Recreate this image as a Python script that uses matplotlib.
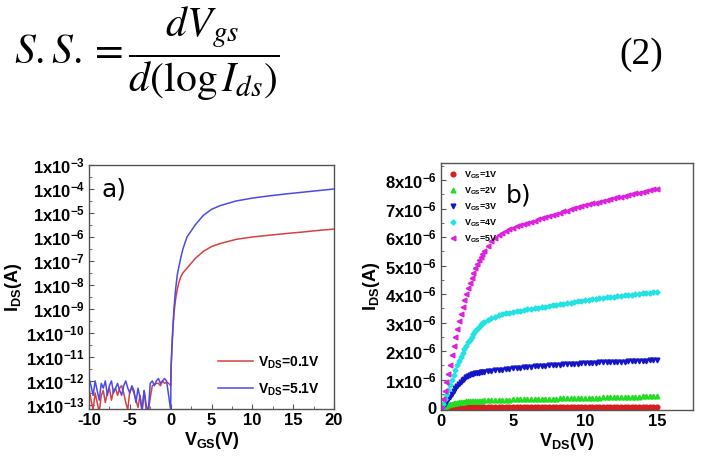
import numpy as np
import matplotlib
matplotlib.use('Agg')
import matplotlib.pyplot as plt
from matplotlib.ticker import FixedLocator, FixedFormatter, MultipleLocator

plt.rcParams['font.family'] = ['Liberation Sans', 'DejaVu Sans']
plt.rcParams['mathtext.fontset'] = 'custom'
plt.rcParams['mathtext.rm'] = 'Liberation Sans:bold'
plt.rcParams['mathtext.bf'] = 'Liberation Sans:bold'
plt.rcParams['mathtext.it'] = 'Liberation Sans:bold'
plt.rcParams['axes.unicode_minus'] = False

# ---- panel a) transfer curves, log10(I_DS)
vgs = [-10, -9.75, -9.5, -9.25, -9, -8.75, -8.5, -8.25, -8, -7.75, -7.5, -7.25,
       -7, -6.75, -6.5, -6.25, -6, -5.75, -5.5, -5.25, -5, -4.75, -4.5, -4.25,
       -4, -3.75, -3.5, -3.25, -3, -2.75, -2.5, -2.25, -2, -1.75, -1.5, -1.25,
       -1, -0.75, -0.5, -0.25, 0,
       0.05, 0.15, 0.25, 0.4, 0.6, 0.8, 1.0, 1.25, 1.5, 2, 2.5, 3, 4, 5, 6,
       8, 10, 12, 14, 16, 18, 20]
log_ids_01 = [-12.3, -12.8, -13.2, -12.5, -12.9, -13.3, -12.6, -12.4, -12.9, -12.5,
              -12.3, -12.8, -12.4, -12.3, -12.6, -12.3, -12.2, -12.5, -12.9, -13.2,
              -12.4, -12.3, -12.5, -12.8, -13.1, -12.6, -13.3, -12.4, -13.2, -13.3,
              -12.7, -12.2, -12.15, -12.1, -12.1, -12.2, -12.0, -12.1, -12.05, -12.1,
              -12.2,
              -11.5, -10.7, -10.0, -9.2, -8.6, -8.2, -7.9, -7.65, -7.5, -7.3, -7.1,
              -6.9, -6.6, -6.4, -6.28, -6.1, -6.0, -5.93, -5.86, -5.8, -5.73, -5.67]
log_ids_51 = [-11.9, -12.2, -12.6, -12.0, -12.4, -12.8, -12.1, -12.3, -12.0, -12.6,
              -12.2, -12.0, -12.5, -12.3, -12.1, -12.4, -12.6, -12.2, -12.0, -12.3,
              -12.5, -12.2, -12.4, -12.9, -12.3, -12.7, -13.2, -12.4, -13.0, -13.3,
              -12.1, -12.0, -12.2, -12.0, -11.9, -12.1, -12.0, -11.9, -12.0, -12.6,
              -13.2,
              -11.4, -10.6, -9.9, -9.0, -8.2, -7.6, -7.25, -6.85, -6.5, -6.0, -5.75,
              -5.5, -5.1, -4.85, -4.7, -4.5, -4.38, -4.29, -4.21, -4.14, -4.07, -4.0]
ylog_ticks = [-3, -4, -5, -6, -7, -8, -9, -10, -11, -12, -13]

# ---- panel b) output curves, I_DS in uA
vds = np.concatenate([np.arange(0, 3.001, 0.125), np.arange(3.25, 15.001, 0.25)])
ids_1v = [0, 0.005, 0.01, 0.015, 0.02, 0.022, 0.025, 0.027, 0.03, 0.03, 0.03, 0.03, 0.03,
          0.03, 0.03, 0.03, 0.03, 0.03, 0.03, 0.03, 0.03, 0.03, 0.03, 0.03, 0.03,
          0.03, 0.03, 0.03, 0.03, 0.03, 0.03, 0.03, 0.03,
          0.03, 0.031, 0.031, 0.032, 0.032, 0.033, 0.033, 0.034, 0.034, 0.035,
          0.035, 0.036, 0.036, 0.037, 0.037, 0.038, 0.038, 0.039, 0.039, 0.04,
          0.04, 0.041, 0.041, 0.042, 0.042, 0.043, 0.043, 0.044, 0.044, 0.045,
          0.045, 0.046, 0.046, 0.047, 0.047, 0.048, 0.048, 0.049, 0.049, 0.05]
ids_2v = [0, 0.03, 0.06, 0.085, 0.11, 0.13, 0.15, 0.165, 0.18, 0.19, 0.2, 0.21, 0.22,
          0.225, 0.23, 0.235, 0.24, 0.243, 0.245, 0.248, 0.25, 0.255, 0.26, 0.262, 0.265,
          0.27, 0.275, 0.28, 0.285, 0.29, 0.29, 0.295, 0.3,
          0.3, 0.305, 0.31, 0.31, 0.315, 0.315, 0.32, 0.32, 0.325, 0.325,
          0.33, 0.33, 0.335, 0.335, 0.34, 0.34, 0.345, 0.345, 0.35, 0.35,
          0.355, 0.36, 0.36, 0.365, 0.37, 0.37, 0.375, 0.38, 0.38, 0.385,
          0.39, 0.39, 0.395, 0.4, 0.4, 0.405, 0.41, 0.41, 0.415, 0.42]
ids_3v = [0, 0.07, 0.15, 0.22, 0.3, 0.4, 0.5, 0.6, 0.7, 0.78, 0.85, 0.92, 0.98,
          1.03, 1.08, 1.12, 1.15, 1.18, 1.2, 1.22, 1.23, 1.24, 1.25, 1.26, 1.27,
          1.29, 1.3, 1.32, 1.33, 1.35, 1.37, 1.38, 1.4,
          1.41, 1.42, 1.43, 1.44, 1.45, 1.46, 1.47, 1.48, 1.49, 1.5,
          1.5, 1.51, 1.52, 1.53, 1.54, 1.55, 1.55, 1.56, 1.57, 1.58,
          1.58, 1.59, 1.59, 1.6, 1.6, 1.61, 1.61, 1.62, 1.62, 1.63,
          1.63, 1.64, 1.64, 1.65, 1.65, 1.66, 1.66, 1.67, 1.67, 1.68]
ids_4v = [0, 0.15, 0.3, 0.46, 0.63, 0.8, 0.98, 1.16, 1.33, 1.5, 1.65, 1.8, 1.93,
          2.06, 2.18, 2.3, 2.4, 2.5, 2.6, 2.69, 2.78, 2.85, 2.92, 2.97, 3.02,
          3.1, 3.16, 3.21, 3.26, 3.29, 3.32, 3.35, 3.37,
          3.39, 3.41, 3.43, 3.46, 3.48, 3.5, 3.52, 3.54, 3.56, 3.58,
          3.6, 3.62, 3.64, 3.66, 3.68, 3.7, 3.72, 3.74, 3.77, 3.79,
          3.8, 3.82, 3.83, 3.85, 3.86, 3.88, 3.89, 3.91, 3.92, 3.94,
          3.95, 3.97, 3.98, 4.0, 4.01, 4.02, 4.03, 4.04, 4.06, 4.07]
ids_5v = [0, 0.3, 0.6, 0.9, 1.2, 1.52, 1.85, 2.18, 2.5, 2.78, 3.05, 3.3, 3.55,
          3.78, 4.0, 4.2, 4.4, 4.58, 4.75, 4.9, 5.05, 5.18, 5.3, 5.41, 5.52,
          5.7, 5.85, 5.97, 6.07, 6.15, 6.22, 6.28, 6.33,
          6.38, 6.42, 6.46, 6.5, 6.54, 6.58, 6.62, 6.66, 6.7, 6.74,
          6.78, 6.82, 6.86, 6.9, 6.93, 6.97, 7.01, 7.05, 7.08, 7.12,
          7.15, 7.18, 7.21, 7.24, 7.27, 7.3, 7.33, 7.36, 7.39, 7.42,
          7.45, 7.47, 7.5, 7.53, 7.56, 7.58, 7.61, 7.64, 7.67, 7.7]
out_series = [ids_1v, ids_2v, ids_3v, ids_4v, ids_5v]
out_labels = ['1V', '2V', '3V', '4V', '5V']
out_colors = ['#d81e1e', '#22dd22', '#1515c8', '#22e2e2', '#dd22dd']
out_markers = ['o', '^', 'v', 'D', '<']

fig = plt.figure(figsize=(7.02, 4.72), dpi=100)

# equation on top
fig.text(0.02, 0.885, r'$S.S.=\dfrac{dV_{gs}}{d(\log I_{ds})}$', fontsize=30,
         math_fontfamily='stix', va='center', ha='left')
fig.text(0.882, 0.885, '(2)', fontsize=27, family='Liberation Serif',
         va='center', ha='left')

frame_col = '#555555'

# ---------------- panel a
ax1 = fig.add_axes([89/702, 1-409/472, 245/702, 244/472])
ax1.plot(vgs, 10.0**np.array(log_ids_01), color='#d84040', lw=1.1,
         label=r'V$_{\mathbf{DS}}$=0.1V')
ax1.plot(vgs, 10.0**np.array(log_ids_51), color='#4a4ae8', lw=1.1,
         label=r'V$_{\mathbf{DS}}$=5.1V')
ax1.set_yscale('log')
ax1.set_xlim(-10, 20)
ax1.set_ylim(10**-13.17, 1e-3)
ax1.yaxis.set_major_locator(FixedLocator([10.0**e for e in ylog_ticks]))
ax1.yaxis.set_major_formatter(FixedFormatter(
    [r'1x10$^{\mathbf{%d}}$' % e for e in ylog_ticks]))
ax1.yaxis.set_minor_locator(FixedLocator([10.0**(e + 0.5) for e in range(-14, -2)]))
ax1.yaxis.set_minor_formatter(FixedFormatter([]))
ax1.xaxis.set_major_locator(MultipleLocator(5))
ax1.xaxis.set_minor_locator(MultipleLocator(2.5))
ax1.set_xlabel(r'V$_{\mathbf{GS}}$(V)', fontsize=13, fontweight='bold', labelpad=1)
ax1.set_ylabel(r'I$_{\mathbf{DS}}$(A)', fontsize=13, fontweight='bold', labelpad=2)
ax1.text(0.05, 0.95, 'a)', transform=ax1.transAxes, fontsize=18,
         family='DejaVu Sans', va='top', ha='left')
leg1 = ax1.legend(loc='lower right', frameon=False, fontsize=10,
                  handlelength=2.5, handletextpad=0.4, labelspacing=0.75,
                  borderaxespad=0.6, bbox_to_anchor=(1.0, -0.01))
for t in leg1.get_texts():
    t.set_fontweight('bold')

# ---------------- panel b
ax2 = fig.add_axes([441/702, 1-410/472, 252/702, 247/472])
for ys, lab, col, mk in zip(out_series, out_labels, out_colors, out_markers):
    ms = 2.6 if mk == 'D' else 3.4
    ax2.plot(vds, np.array(ys) * 1e-6, ls='none', marker=mk, ms=ms,
             color=col, mec=col, label=r'V$_{\mathbf{GS}}$=' + lab)
ax2.set_xlim(0, 17.5)
ax2.set_ylim(-0.07e-6, 8.6e-6)
ax2.yaxis.set_major_locator(FixedLocator([i * 1e-6 for i in range(9)]))
ax2.yaxis.set_major_formatter(FixedFormatter(
    ['0'] + [r'%dx10$^{\mathbf{-6}}$' % i for i in range(1, 9)]))
ax2.yaxis.set_minor_locator(MultipleLocator(0.5e-6))
ax2.xaxis.set_major_locator(FixedLocator([0, 5, 10, 15]))
ax2.xaxis.set_minor_locator(MultipleLocator(2.5))
ax2.set_xlabel(r'V$_{\mathbf{DS}}$(V)', fontsize=13, fontweight='bold', labelpad=1)
ax2.set_ylabel(r'I$_{\mathbf{DS}}$(A)', fontsize=13, fontweight='bold', labelpad=2)
ax2.text(0.255, 0.915, 'b)', transform=ax2.transAxes, fontsize=18,
         family='DejaVu Sans', va='top', ha='left')
leg2 = ax2.legend(loc='upper left', frameon=False, fontsize=6.5, markerscale=1.0,
                  handlelength=1.2, handletextpad=0.6, labelspacing=0.5,
                  borderaxespad=0.3)
for t in leg2.get_texts():
    t.set_fontweight('bold')

for ax in (ax1, ax2):
    for sp in ax.spines.values():
        sp.set_color(frame_col)
        sp.set_linewidth(1.0)
    ax.tick_params(which='both', direction='in', color=frame_col, labelsize=12, pad=3)
    ax.tick_params(which='major', length=3.5)
    ax.tick_params(which='minor', length=2)
    for lab in ax.get_xticklabels() + ax.get_yticklabels():
        lab.set_fontweight('bold')

fig.savefig('out.png', dpi=100)
